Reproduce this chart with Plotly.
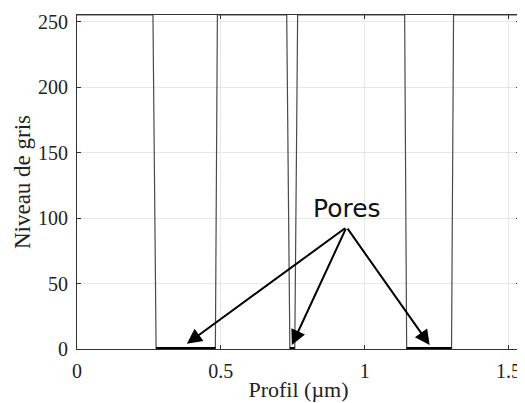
import plotly.graph_objects as go

# Grey-level profile (Profil in µm, Niveau de gris)
profil_x = [0, 0.264, 0.275, 0.481, 0.488, 0.729, 0.740, 0.757, 0.767,
            1.139, 1.146, 1.302, 1.309, 1.54]
niveau_y = [255, 255, 0, 0, 255, 255, 0, 0, 255, 255, 0, 0, 255, 255]

# Pore intervals (start, end) at grey level 0
pore_start = [0.275, 0.740, 1.146]
pore_end = [0.481, 0.757, 1.302]

# Annotation: label position and arrow tips
label_text = "Pores"
label_x, label_y = 0.937, 107.5
arrow_from_x, arrow_from_y = 0.937, 93
arrow_tip_x = [0.382, 0.747, 1.226]
arrow_tip_y = [4, 3, 3]

x_ticks = [0, 0.5, 1, 1.5]
x_tick_labels = ["0", "0.5", "1", "1.5"]
y_ticks = [0, 50, 100, 150, 200, 250]

fig = go.Figure()
fig.add_trace(go.Scatter(x=profil_x, y=niveau_y, mode="lines",
                         line=dict(color="#4a4a4a", width=1.2),
                         showlegend=False, hoverinfo="skip"))
for s, e in zip(pore_start, pore_end):
    fig.add_trace(go.Scatter(x=[s, e], y=[0, 0], mode="lines",
                             line=dict(color="black", width=4),
                             showlegend=False, hoverinfo="skip", cliponaxis=False))

for tx, ty in zip(arrow_tip_x, arrow_tip_y):
    fig.add_annotation(x=tx, y=ty, ax=arrow_from_x, ay=arrow_from_y,
                       xref="x", yref="y", axref="x", ayref="y",
                       showarrow=True, arrowhead=2, arrowsize=1.5,
                       arrowwidth=2, arrowcolor="black", text="")

fig.add_annotation(x=label_x, y=label_y, xref="x", yref="y",
                   text=label_text, showarrow=False, yanchor="middle",
                   font=dict(family="DejaVu Sans", size=25, color="#111"))

serif = "Liberation Serif"
# The page's body has an 8px margin, so the figure is sized to fill the rest.
fig.update_layout(
    width=517, height=395,
    margin=dict(l=69, r=5, t=7, b=54),
    paper_bgcolor="white", plot_bgcolor="white",
    font=dict(family=serif, size=20, color="#222"),
    xaxis=dict(range=[0, 1.54], tickvals=x_ticks, ticktext=x_tick_labels,
               automargin=False, ticklabelstandoff=4,
               ticks="inside", ticklen=4, tickcolor="#333",
               showline=True, linecolor="#333", linewidth=1.2, mirror="ticks",
               showgrid=True, gridcolor="#e8e8e8", gridwidth=1, zeroline=False,
               title=dict(text="Profil (µm)", standoff=0,
                          font=dict(family=serif, size=22))),
    yaxis=dict(range=[0, 255], tickvals=y_ticks,
               automargin=False, ticklabelstandoff=4,
               ticks="inside", ticklen=4, tickcolor="#333",
               showline=True, linecolor="#333", linewidth=1.2, mirror="ticks",
               showgrid=True, gridcolor="#e8e8e8", gridwidth=1, zeroline=False,
               title=dict(text="Niveau de gris", standoff=0,
                          font=dict(family=serif, size=23))),
)

fig.write_html("out.html")
